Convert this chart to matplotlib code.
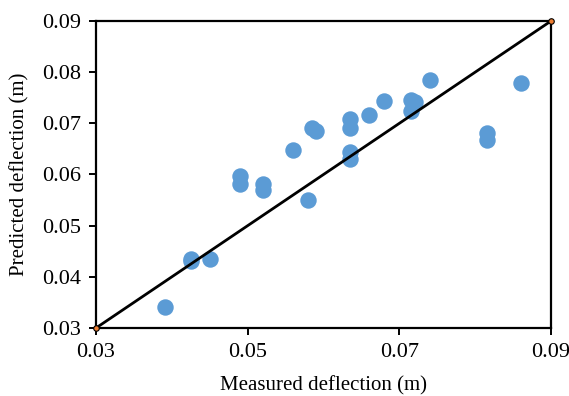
import matplotlib
matplotlib.use("Agg")
import matplotlib.pyplot as plt

measured = [0.0391, 0.0425, 0.0425, 0.0450, 0.0490, 0.0490, 0.0520, 0.0520,
            0.0560, 0.0580, 0.0585, 0.0590, 0.0635, 0.0635, 0.0635, 0.0635,
            0.0660, 0.0680, 0.0715, 0.0721, 0.0715, 0.0740, 0.0815, 0.0815, 0.0860]
predicted = [0.0341, 0.0435, 0.0431, 0.0434, 0.0597, 0.0582, 0.0582, 0.0569,
             0.0648, 0.0550, 0.0690, 0.0685, 0.0708, 0.0690, 0.0643, 0.0630,
             0.0717, 0.0743, 0.0746, 0.0742, 0.0725, 0.0784, 0.0682, 0.0667, 0.0778]
line_x = [0.03, 0.09]
line_y = [0.03, 0.09]
xticks = [0.03, 0.05, 0.07, 0.09]
yticks = [0.03, 0.04, 0.05, 0.06, 0.07, 0.08, 0.09]

plt.rcParams['font.family'] = ['Liberation Serif', 'DejaVu Serif']

fig = plt.figure(figsize=(5.69, 3.96), dpi=100)
ax = fig.add_axes([0.1687, 0.1717, 0.7997, 0.7753])

ax.scatter(measured, predicted, s=140, color='#5B9BD5', zorder=2, linewidths=0)
ax.plot(line_x, line_y, color='black', lw=2.0, marker='o', markersize=4,
        markerfacecolor='#ED7D31', markeredgecolor='black', markeredgewidth=0.8,
        zorder=3, clip_on=False)

ax.set_xlim(0.03, 0.09)
ax.set_ylim(0.03, 0.09)
ax.set_xticks(xticks)
ax.set_yticks(yticks)
ax.set_xticklabels([f"{v:.2f}" for v in xticks])
ax.set_yticklabels([f"{v:.2f}" for v in yticks])
ax.tick_params(direction='out', length=5, width=1.4, labelsize=16, pad=6)
for s in ax.spines.values():
    s.set_linewidth(1.6)
ax.set_xlabel('Measured deflection (m)', fontsize=15, labelpad=10)
ax.set_ylabel('Predicted deflection (m)', fontsize=15, labelpad=9)

fig.savefig('out.png', dpi=100)
